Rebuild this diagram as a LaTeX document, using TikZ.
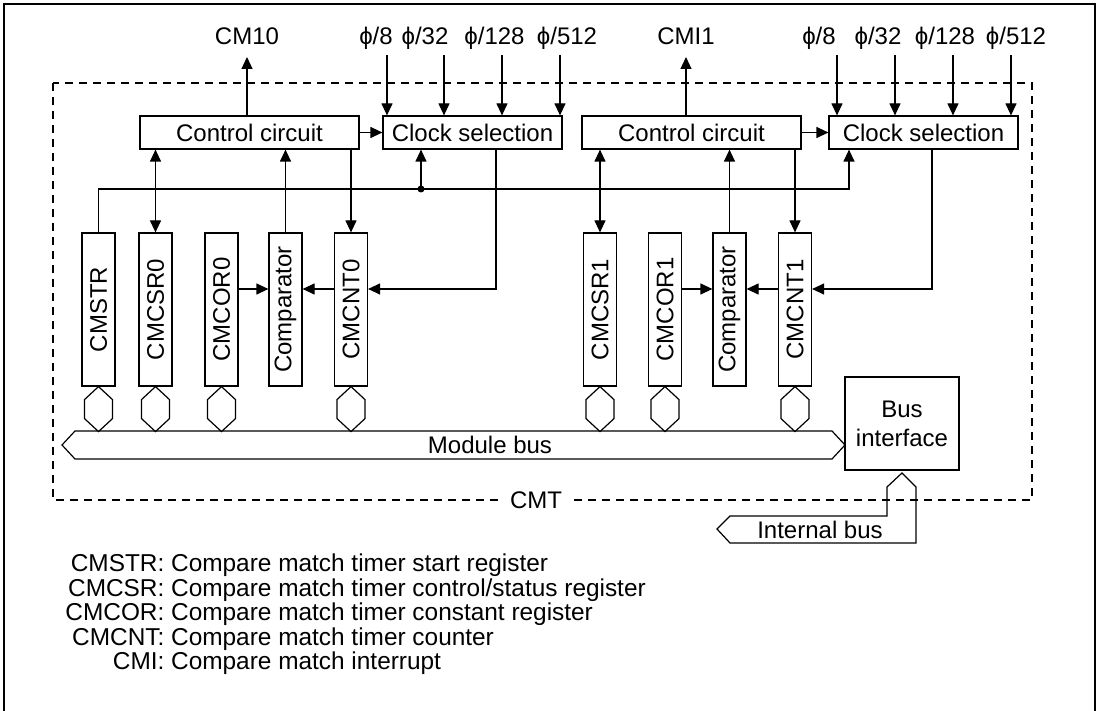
\documentclass[tikz,border=0pt]{standalone}
\usepackage{fontspec}
\setmainfont{Liberation Sans}
\usepackage{graphicx}
\usetikzlibrary{arrows.meta}
\begin{document}
\begin{tikzpicture}[x=0.5pt,y=-0.5pt,
  every node/.style={font=\fontsize{12}{14.5}\selectfont},
  ln/.style={line width=0.6pt},
  arr/.style={ln,-{Triangle[length=6pt,width=5.5pt]}},
  barr/.style={ln,{Triangle[length=6pt,width=5.5pt]}-{Triangle[length=6pt,width=5.5pt]}},
  hbox/.style={draw,ln,minimum height=16.5pt,inner sep=0pt},
  reg/.style={draw,ln,minimum width=16.5pt,minimum height=76.5pt,inner sep=0pt},
  toplbl/.style={anchor=base,inner sep=0pt},
  legend/.style={anchor=base west,inner sep=0pt,font=\fontsize{12.2}{14.5}\selectfont}]
\useasboundingbox (0,0) rectangle (1100,711);
\fill[white] (0,0) rectangle (1100,711);
\draw[ln] (4,711) -- (4,4) -- (1095,4) -- (1095,711);
% CMT dashed frame
\draw[ln,dash pattern=on 4pt off 3pt] (53,83) rectangle (1032,500);
\node[fill=white,inner xsep=3.5pt,inner ysep=1pt] (cmt) at (536,500) {CMT};
% top boxes
\node[hbox,minimum width=109.5pt] (ctrl0) at (249.5,132.5) {Control circuit};
\node[hbox,minimum width=89.5pt] (clk0) at (472.5,132.5) {Clock selection};
\node[hbox,minimum width=109.5pt] (ctrl1) at (691.5,132.5) {Control circuit};
\node[hbox,minimum width=94.5pt] (clk1) at (923.5,132.5) {Clock selection};
% outputs
\node[toplbl] (cmi0) at (247,45) {CM10};
\node[toplbl] (cmi1) at (686,45) {CMI1};
\coordinate (t0) at (247,57);
\coordinate (t1) at (686,57);
\draw[arr] (ctrl0.north -| t0) -- (t0);
\draw[arr] (ctrl1.north -| t1) -- (t1);
% clock inputs
\foreach \lx/\ax/\t [count=\i] in {376/387/8, 425/444/32, 494.5/502/128, 567/560/512} {
  \node[toplbl] (pl\i) at (\lx,45) {ϕ/\t};
  \coordinate (pa\i) at (\ax,55);
  \draw[arr] (pa\i) -- (pa\i |- clk0.north);
}
\foreach \lx/\ax/\t [count=\i] in {819/837/8, 878/895/32, 945/953/128, 1016/1011/512} {
  \node[toplbl] (pr\i) at (\lx,45) {ϕ/\t};
  \coordinate (qa\i) at (\ax,55);
  \draw[arr] (qa\i) -- (qa\i |- clk1.north);
}
\draw[arr] (ctrl0.east) -- (clk0.west);
\draw[arr] (ctrl1.east) -- (clk1.west);
% registers
\node[reg] (cmstr) at (98.5,309.5) {\rotatebox{90}{CMSTR}};
\node[reg] (csr0) at (155.5,309.5) {\rotatebox{90}{CMCSR0}};
\node[reg] (cor0) at (221.5,309.5) {\rotatebox{90}{CMCOR0}};
\node[reg] (cmp0) at (285.5,309.5) {\rotatebox{90}{Comparator}};
\node[reg] (cnt0) at (351,309.5) {\rotatebox{90}{CMCNT0}};
\node[reg] (csr1) at (600,309.5) {\rotatebox{90}{CMCSR1}};
\node[reg] (cor1) at (665,309.5) {\rotatebox{90}{CMCOR1}};
\node[reg] (cmp1) at (729.5,309.5) {\rotatebox{90}{Comparator}};
\node[reg] (cnt1) at (795,309.5) {\rotatebox{90}{CMCNT1}};
% register row connections
\coordinate (row) at (0,289);
\draw[arr] (cor0.east |- row) -- (cmp0.west |- row);
\draw[arr] (cnt0.west |- row) -- (cmp0.east |- row);
\draw[arr] (cor1.east |- row) -- (cmp1.west |- row);
\draw[arr] (cnt1.west |- row) -- (cmp1.east |- row);
\coordinate (c0) at (496,289);
\coordinate (c1) at (932,289);
\draw[arr] (clk0.south -| c0) -- (c0) -- (cnt0.east |- c0);
\draw[arr] (clk1.south -| c1) -- (c1) -- (cnt1.east |- c1);
% control connections
\draw[barr] (ctrl0.south -| csr0) -- (csr0.north);
\draw[arr] (cmp0.north) -- (cmp0.north |- ctrl0.south);
\draw[arr] (cnt0.north |- ctrl0.south) -- (cnt0.north);
\draw[barr] (ctrl1.south -| csr1) -- (csr1.north);
\draw[arr] (cmp1.north) -- (cmp1.north |- ctrl1.south);
\draw[arr] (cnt1.north |- ctrl1.south) -- (cnt1.north);
% start bus
\coordinate (b1) at (849,189);
\coordinate (dot0) at (421,189);
\draw[arr] (cmstr.north) -- (cmstr.north |- b1) -- (b1) -- (b1 |- clk1.south);
\fill (dot0) circle (1.75pt);
\draw[arr] (dot0) -- (dot0 |- clk0.south);
% bus connectors
\foreach \n in {cmstr,csr0,cor0,cnt0,csr1,cor1,cnt1}
  \draw[ln] (\n.south) -- ++(14,13) -- ++(0,19) -- ++(-14,13) -- ++(-14,-13) -- ++(0,-19) -- cycle;
% module bus
\draw[ln] (62,445) -- (75,431) -- (832,431) -- (845,445) -- (832,459) -- (75,459) -- cycle;
\node (mbus) at (490,445) {Module bus};
% bus interface
\node[draw,ln,minimum width=57pt,minimum height=46.5pt,align=center,inner sep=0pt] (bif) at (902,423.5) {Bus\\interface};
% internal bus
\draw[ln] (902,473) -- (916,487) -- (916,543) -- (730,543) -- (717,529) -- (730,516) -- (887,516) -- (887,487) -- cycle;
\node (ibus) at (820,530) {Internal bus};
% legend
\node[legend] (l1) at (64,572) {\makebox[50pt][r]{CMSTR:} Compare match timer start register};
\node[legend] (l2) at (64,597) {\makebox[50pt][r]{CMCSR:} Compare match timer control/status register};
\node[legend] (l3) at (64,621) {\makebox[50pt][r]{CMCOR:} Compare match timer constant register};
\node[legend] (l4) at (64,646) {\makebox[50pt][r]{CMCNT:} Compare match timer counter};
\node[legend] (l5) at (64,670) {\makebox[50pt][r]{CMI:} Compare match interrupt};
\end{tikzpicture}
\end{document}
